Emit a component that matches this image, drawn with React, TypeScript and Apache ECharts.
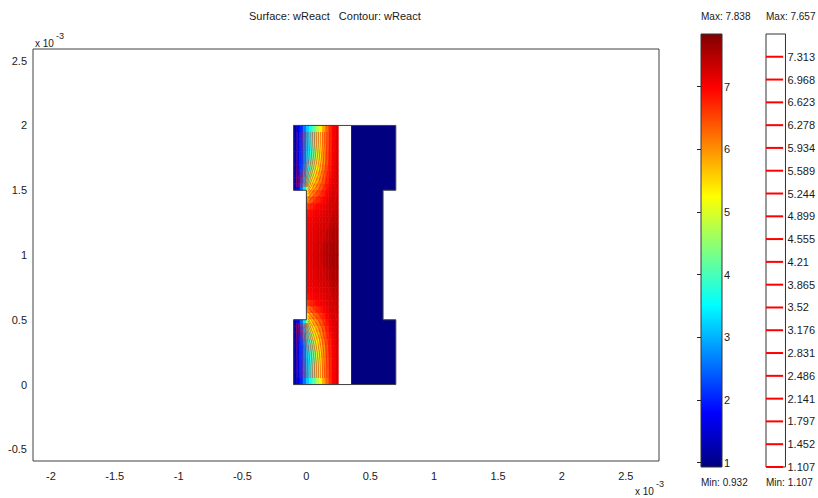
import React, { useEffect, useRef } from "react";
import * as echarts from "echarts";

// ---------- data ----------
const surfaceMin = 0.932;
const surfaceMax = 7.838;
const contourMin = 1.107;
const contourMax = 7.657;

const xTickValues = [-2, -1.5, -1, -0.5, 0, 0.5, 1, 1.5, 2, 2.5];
const yTickValues = [-0.5, 0, 0.5, 1, 1.5, 2, 2.5];
const colorbarTicks = [1, 2, 3, 4, 5, 6, 7];
const contourLevels = [
  1.107, 1.452, 1.797, 2.141, 2.486, 2.831, 3.176, 3.52, 3.865, 4.21, 4.555, 4.899,
  5.244, 5.589, 5.934, 6.278, 6.623, 6.968, 7.313, 7.657,
];
const legendLevels = [
  1.107, 1.452, 1.797, 2.141, 2.486, 2.831, 3.176, 3.52, 3.865, 4.21, 4.555, 4.899,
  5.244, 5.589, 5.934, 6.278, 6.623, 6.968, 7.313,
];

// cell edges of the reactive (left) domain, in units of 1e-3
const xEdges = [-0.1, -0.075, -0.05, -0.025, 0, 0.025, 0.05, 0.075, 0.1, 0.125, 0.15, 0.175, 0.2, 0.225, 0.25];
const yEdges = [
  2.0, 1.9, 1.8, 1.7, 1.65, 1.6, 1.55, 1.5, 1.45, 1.4, 1.35, 1.3, 1.25, 1.2, 1.1, 1.0,
  0.9, 0.8, 0.75, 0.7, 0.65, 0.6, 0.55, 0.5, 0.45, 0.4, 0.35, 0.3, 0.2, 0.1, 0.0,
];
const N = null;
// wReact values per cell, rows from top (y=2) to bottom (y=0)
const wReact: (number | null)[][] = [
  [1.2, 1.6, 2.05, 2.6, 3.2, 3.65, 4.15, 4.7, 5.3, 5.85, 6.3, 6.7, 7.0, 7.2],
  [1.2, 1.61, 2.07, 2.62, 3.23, 3.7, 4.2, 4.75, 5.33, 5.88, 6.32, 6.71, 7.01, 7.22],
  [1.21, 1.63, 2.1, 2.68, 3.35, 3.85, 4.4, 4.95, 5.48, 5.98, 6.4, 6.76, 7.04, 7.24],
  [1.22, 1.66, 2.16, 2.78, 3.55, 4.1, 4.7, 5.2, 5.68, 6.12, 6.5, 6.82, 7.07, 7.26],
  [1.23, 1.7, 2.24, 2.92, 3.8, 4.45, 5.0, 5.45, 5.88, 6.27, 6.6, 6.88, 7.1, 7.28],
  [1.25, 1.75, 2.35, 3.12, 4.15, 4.85, 5.35, 5.75, 6.1, 6.42, 6.72, 6.96, 7.14, 7.3],
  [1.27, 1.82, 2.5, 3.4, 4.6, 5.3, 5.75, 6.05, 6.35, 6.6, 6.85, 7.05, 7.18, 7.31],
  [N, N, N, N, 5.5, 5.9, 6.2, 6.4, 6.6, 6.8, 7.0, 7.13, 7.23, 7.33],
  [N, N, N, N, 6.1, 6.35, 6.55, 6.7, 6.85, 6.98, 7.1, 7.2, 7.28, 7.36],
  [N, N, N, N, 6.6, 6.75, 6.85, 6.95, 7.02, 7.1, 7.16, 7.25, 7.32, 7.39],
  [N, N, N, N, 6.9, 6.95, 7.0, 7.06, 7.1, 7.15, 7.21, 7.29, 7.36, 7.42],
  [N, N, N, N, 7.0, 7.04, 7.08, 7.12, 7.16, 7.2, 7.26, 7.34, 7.4, 7.45],
  [N, N, N, N, 7.04, 7.08, 7.12, 7.16, 7.2, 7.25, 7.31, 7.39, 7.45, 7.49],
  [N, N, N, N, 7.07, 7.11, 7.16, 7.21, 7.26, 7.32, 7.39, 7.46, 7.51, 7.55],
  [N, N, N, N, 7.09, 7.14, 7.2, 7.27, 7.33, 7.4, 7.47, 7.52, 7.56, 7.6],
  [N, N, N, N, 7.09, 7.14, 7.2, 7.27, 7.33, 7.4, 7.47, 7.52, 7.56, 7.6],
  [N, N, N, N, 7.07, 7.11, 7.16, 7.21, 7.26, 7.32, 7.39, 7.46, 7.51, 7.55],
  [N, N, N, N, 7.04, 7.08, 7.12, 7.16, 7.2, 7.25, 7.31, 7.39, 7.45, 7.49],
  [N, N, N, N, 7.0, 7.04, 7.08, 7.12, 7.16, 7.2, 7.26, 7.34, 7.4, 7.45],
  [N, N, N, N, 6.9, 6.95, 7.0, 7.06, 7.1, 7.15, 7.21, 7.29, 7.36, 7.42],
  [N, N, N, N, 6.6, 6.75, 6.85, 6.95, 7.02, 7.1, 7.16, 7.25, 7.32, 7.39],
  [N, N, N, N, 6.1, 6.35, 6.55, 6.7, 6.85, 6.98, 7.1, 7.2, 7.28, 7.36],
  [N, N, N, N, 5.5, 5.9, 6.2, 6.4, 6.6, 6.8, 7.0, 7.13, 7.23, 7.33],
  [1.27, 1.82, 2.5, 3.4, 4.6, 5.3, 5.75, 6.05, 6.35, 6.6, 6.85, 7.05, 7.18, 7.31],
  [1.25, 1.75, 2.35, 3.12, 4.15, 4.85, 5.35, 5.75, 6.1, 6.42, 6.72, 6.96, 7.14, 7.3],
  [1.23, 1.7, 2.24, 2.92, 3.8, 4.45, 5.0, 5.45, 5.88, 6.27, 6.6, 6.88, 7.1, 7.28],
  [1.22, 1.66, 2.16, 2.78, 3.55, 4.1, 4.7, 5.2, 5.68, 6.12, 6.5, 6.82, 7.07, 7.26],
  [1.21, 1.63, 2.1, 2.68, 3.35, 3.85, 4.4, 4.95, 5.48, 5.98, 6.4, 6.76, 7.04, 7.24],
  [1.2, 1.61, 2.07, 2.62, 3.23, 3.7, 4.2, 4.75, 5.33, 5.88, 6.32, 6.71, 7.01, 7.22],
  [1.2, 1.6, 2.05, 2.6, 3.2, 3.65, 4.15, 4.7, 5.3, 5.85, 6.3, 6.7, 7.0, 7.2],
];

// right (non-reactive) domain, uniform value
const blueDomainX = [0.35, 0.7, 0.7, 0.6, 0.6, 0.7, 0.7, 0.35];
const blueDomainY = [0, 0, 0.5, 0.5, 1.5, 1.5, 2, 2];
const blueDomainValue = 0.932;

// geometry outline
const outlineX = [-0.1, 0.7, 0.7, 0.6, 0.6, 0.7, 0.7, -0.1, -0.1, 0, 0, -0.1, -0.1];
const outlineY = [0, 0, 0.5, 0.5, 1.5, 1.5, 2, 2, 1.5, 1.5, 0.5, 0.5, 0];

// ---------- styling ----------
const jetColors = ["#000080", "#0000ff", "#0080ff", "#00ffff", "#80ff80", "#ffff00", "#ff8000", "#ff0000", "#800000"];
const FONT = "'Liberation Sans', Arial, Helvetica, sans-serif";
const TXT = "#1a1a1a";

function buildCells() {
  const cells: number[][] = [];
  for (let i = 0; i < yEdges.length - 1; i++) {
    for (let j = 0; j < xEdges.length - 1; j++) {
      const v = wReact[i][j];
      if (v == null) continue;
      cells.push([xEdges[j], xEdges[j + 1], yEdges[i + 1], yEdges[i], v]);
    }
  }
  return cells;
}

function buildContours(levels: number[]) {
  const xc = xEdges.slice(0, -1).map((v, i) => (v + xEdges[i + 1]) / 2);
  const yc = yEdges.slice(0, -1).map((v, i) => (v + yEdges[i + 1]) / 2);
  const segs: number[][] = [];
  for (let i = 0; i < yc.length - 1; i++) {
    for (let j = 0; j < xc.length - 1; j++) {
      const corners: [number, number, number | null][] = [
        [xc[j], yc[i], wReact[i][j]],
        [xc[j + 1], yc[i], wReact[i][j + 1]],
        [xc[j + 1], yc[i + 1], wReact[i + 1][j + 1]],
        [xc[j], yc[i + 1], wReact[i + 1][j]],
      ];
      if (corners.some((c) => c[2] == null)) continue;
      for (const L of levels) {
        const pts: number[][] = [];
        for (let k = 0; k < 4; k++) {
          const p = corners[k];
          const q = corners[(k + 1) % 4];
          const vp = p[2] as number;
          const vq = q[2] as number;
          if (vp < L !== vq < L) {
            const t = (L - vp) / (vq - vp);
            pts.push([p[0] + t * (q[0] - p[0]), p[1] + t * (q[1] - p[1])]);
          }
        }
        if (pts.length >= 2) segs.push([pts[0][0], pts[0][1], pts[1][0], pts[1][1]]);
        if (pts.length === 4) segs.push([pts[2][0], pts[2][1], pts[3][0], pts[3][1]]);
      }
    }
  }
  return segs;
}

export default function App() {
  const ref = useRef<HTMLDivElement>(null);
  useEffect(() => {
    if (!ref.current) return;
    const chart = echarts.init(ref.current, undefined, { renderer: "svg" });
    const cells = buildCells();
    const segs = buildContours(contourLevels);
    const gradient = new echarts.graphic.LinearGradient(
      0, 0, 0, 1,
      jetColors.slice().reverse().map((c, i) => ({ offset: i / (jetColors.length - 1), color: c }))
    );
    const labelBase = { fontSize: 11, color: TXT, fontFamily: FONT };
    const text = (t: string, x: number, y: number, align: string, size = 11) => ({
      type: "text",
      x,
      y,
      style: { text: t, fill: TXT, fontSize: size, fontFamily: FONT, textAlign: align, align, textVerticalAlign: "middle", verticalAlign: "middle" },
      z: 10,
    });

    const option: any = {
      animation: false,
      textStyle: { fontFamily: FONT },
      grid: [
        { left: 33, top: 49, width: 626, height: 412, show: true, borderColor: "#404040", borderWidth: 1, backgroundColor: "transparent" },
        { left: 701, top: 34, width: 21, height: 433 },
        { left: 766, top: 34, width: 20, height: 433 },
      ],
      xAxis: [
        {
          type: "value", gridIndex: 0, min: -2.14, max: 2.76,
          axisLine: { show: false }, axisTick: { show: false }, splitLine: { show: false },
          axisLabel: { ...labelBase, margin: 9, customValues: xTickValues, formatter: (v: number) => String(v) },
        },
        { type: "value", gridIndex: 1, min: 0, max: 1, show: false },
        { type: "value", gridIndex: 2, min: 0, max: 1, show: false },
      ],
      yAxis: [
        {
          type: "value", gridIndex: 0, min: -0.59, max: 2.59,
          axisLine: { show: false }, axisTick: { show: false }, splitLine: { show: false },
          axisLabel: { ...labelBase, margin: 6, customValues: yTickValues, formatter: (v: number) => String(v) },
        },
        {
          type: "value", gridIndex: 1, min: surfaceMin, max: surfaceMax, position: "right",
          axisLine: { show: false }, splitLine: { show: false },
          axisTick: { show: true, inside: true, length: 4, customValues: colorbarTicks, lineStyle: { color: "#222" } },
          axisLabel: { ...labelBase, margin: 2, customValues: colorbarTicks, formatter: (v: number) => String(v) },
        },
        {
          type: "value", gridIndex: 1, min: surfaceMin, max: surfaceMax, position: "left",
          axisLine: { show: false }, splitLine: { show: false }, axisLabel: { show: false },
          axisTick: { show: true, inside: true, length: 4, customValues: colorbarTicks, lineStyle: { color: "#222" } },
        },
        {
          type: "value", gridIndex: 2, min: contourMin, max: contourMax, position: "right",
          axisLine: { show: false }, splitLine: { show: false }, axisTick: { show: false },
          axisLabel: { ...labelBase, margin: 2, customValues: legendLevels, formatter: (v: number) => String(v) },
        },
      ],
      visualMap: {
        show: false, type: "continuous", min: surfaceMin, max: surfaceMax, dimension: 4,
        seriesIndex: [0, 1], inRange: { color: jetColors },
      },
      series: [
        {
          type: "custom", xAxisIndex: 0, yAxisIndex: 0, data: cells, silent: true, z: 1,
          renderItem: (params: any, api: any) => {
            const p0 = api.coord([api.value(0), api.value(3)]);
            const p1 = api.coord([api.value(1), api.value(2)]);
            const c = api.visual("color");
            return { type: "rect", shape: { x: p0[0], y: p0[1], width: p1[0] - p0[0], height: p1[1] - p0[1] }, style: { fill: c, stroke: c, lineWidth: 0.6 } };
          },
        },
        {
          type: "custom", xAxisIndex: 0, yAxisIndex: 0, silent: true, z: 1,
          data: [[0.35, 0.7, 0, 2, blueDomainValue]],
          renderItem: (params: any, api: any) => ({
            type: "polygon",
            shape: { points: blueDomainX.map((x, i) => api.coord([x, blueDomainY[i]])) },
            style: { fill: api.visual("color") },
          }),
        },
        {
          type: "custom", xAxisIndex: 0, yAxisIndex: 0, silent: true, z: 3,
          data: segs,
          renderItem: (params: any, api: any) => {
            const a = api.coord([api.value(0), api.value(1)]);
            const b = api.coord([api.value(2), api.value(3)]);
            return { type: "line", shape: { x1: a[0], y1: a[1], x2: b[0], y2: b[1] }, style: { stroke: "#ff0000", lineWidth: 0.5 } };
          },
        },
        {
          type: "line", xAxisIndex: 0, yAxisIndex: 0, silent: true, z: 4, symbol: "none",
          data: outlineX.map((x, i) => [x, outlineY[i]]),
          lineStyle: { color: "#404040", width: 1 },
        },
        {
          type: "custom", xAxisIndex: 1, yAxisIndex: 1, silent: true, z: 1,
          data: [[0, 1, surfaceMin, surfaceMax]],
          renderItem: (params: any, api: any) => {
            const p0 = api.coord([api.value(0), api.value(3)]);
            const p1 = api.coord([api.value(1), api.value(2)]);
            return { type: "rect", shape: { x: p0[0], y: p0[1], width: p1[0] - p0[0], height: p1[1] - p0[1] }, style: { fill: gradient, stroke: "#333", lineWidth: 1 } };
          },
        },
        {
          type: "custom", xAxisIndex: 2, yAxisIndex: 3, silent: true, z: 1,
          data: [[0, 1, contourMin, contourMax]],
          renderItem: (params: any, api: any) => {
            const p0 = api.coord([api.value(0), api.value(3)]);
            const p1 = api.coord([api.value(1), api.value(2)]);
            return { type: "rect", shape: { x: p0[0], y: p0[1], width: p1[0] - p0[0], height: p1[1] - p0[1] }, style: { fill: "#fff", stroke: "#333", lineWidth: 1 } };
          },
        },
        {
          type: "custom", xAxisIndex: 2, yAxisIndex: 3, silent: true, z: 2,
          data: legendLevels.map((v) => [v]),
          renderItem: (params: any, api: any) => {
            const a = api.coord([0, api.value(0)]);
            const b = api.coord([0.88, api.value(0)]);
            return { type: "line", shape: { x1: a[0], y1: a[1], x2: b[0], y2: b[1] }, style: { stroke: "#ff0000", lineWidth: 2 } };
          },
        },
      ],
      graphic: [
        text("Surface: wReact   Contour: wReact", 249, 16, "left"),
        text("x 10", 35, 43, "left", 10),
        text("-3", 56, 36, "left", 9),
        text("x 10", 635, 491, "left", 10),
        text("-3", 656, 484, "left", 9),
        text("Max: " + surfaceMax, 701, 16, "left", 10),
        text("Max: " + contourMax, 766, 16, "left", 10),
        text("Min: " + surfaceMin, 701, 482, "left", 10),
        text("Min: " + contourMin, 766, 482, "left", 10),
      ],
    };
    chart.setOption(option);
    return () => chart.dispose();
  }, []);
  return <div ref={ref} style={{ position: "fixed", left: 0, top: 0, width: 818, height: 498, background: "#fff" }} />;
}
